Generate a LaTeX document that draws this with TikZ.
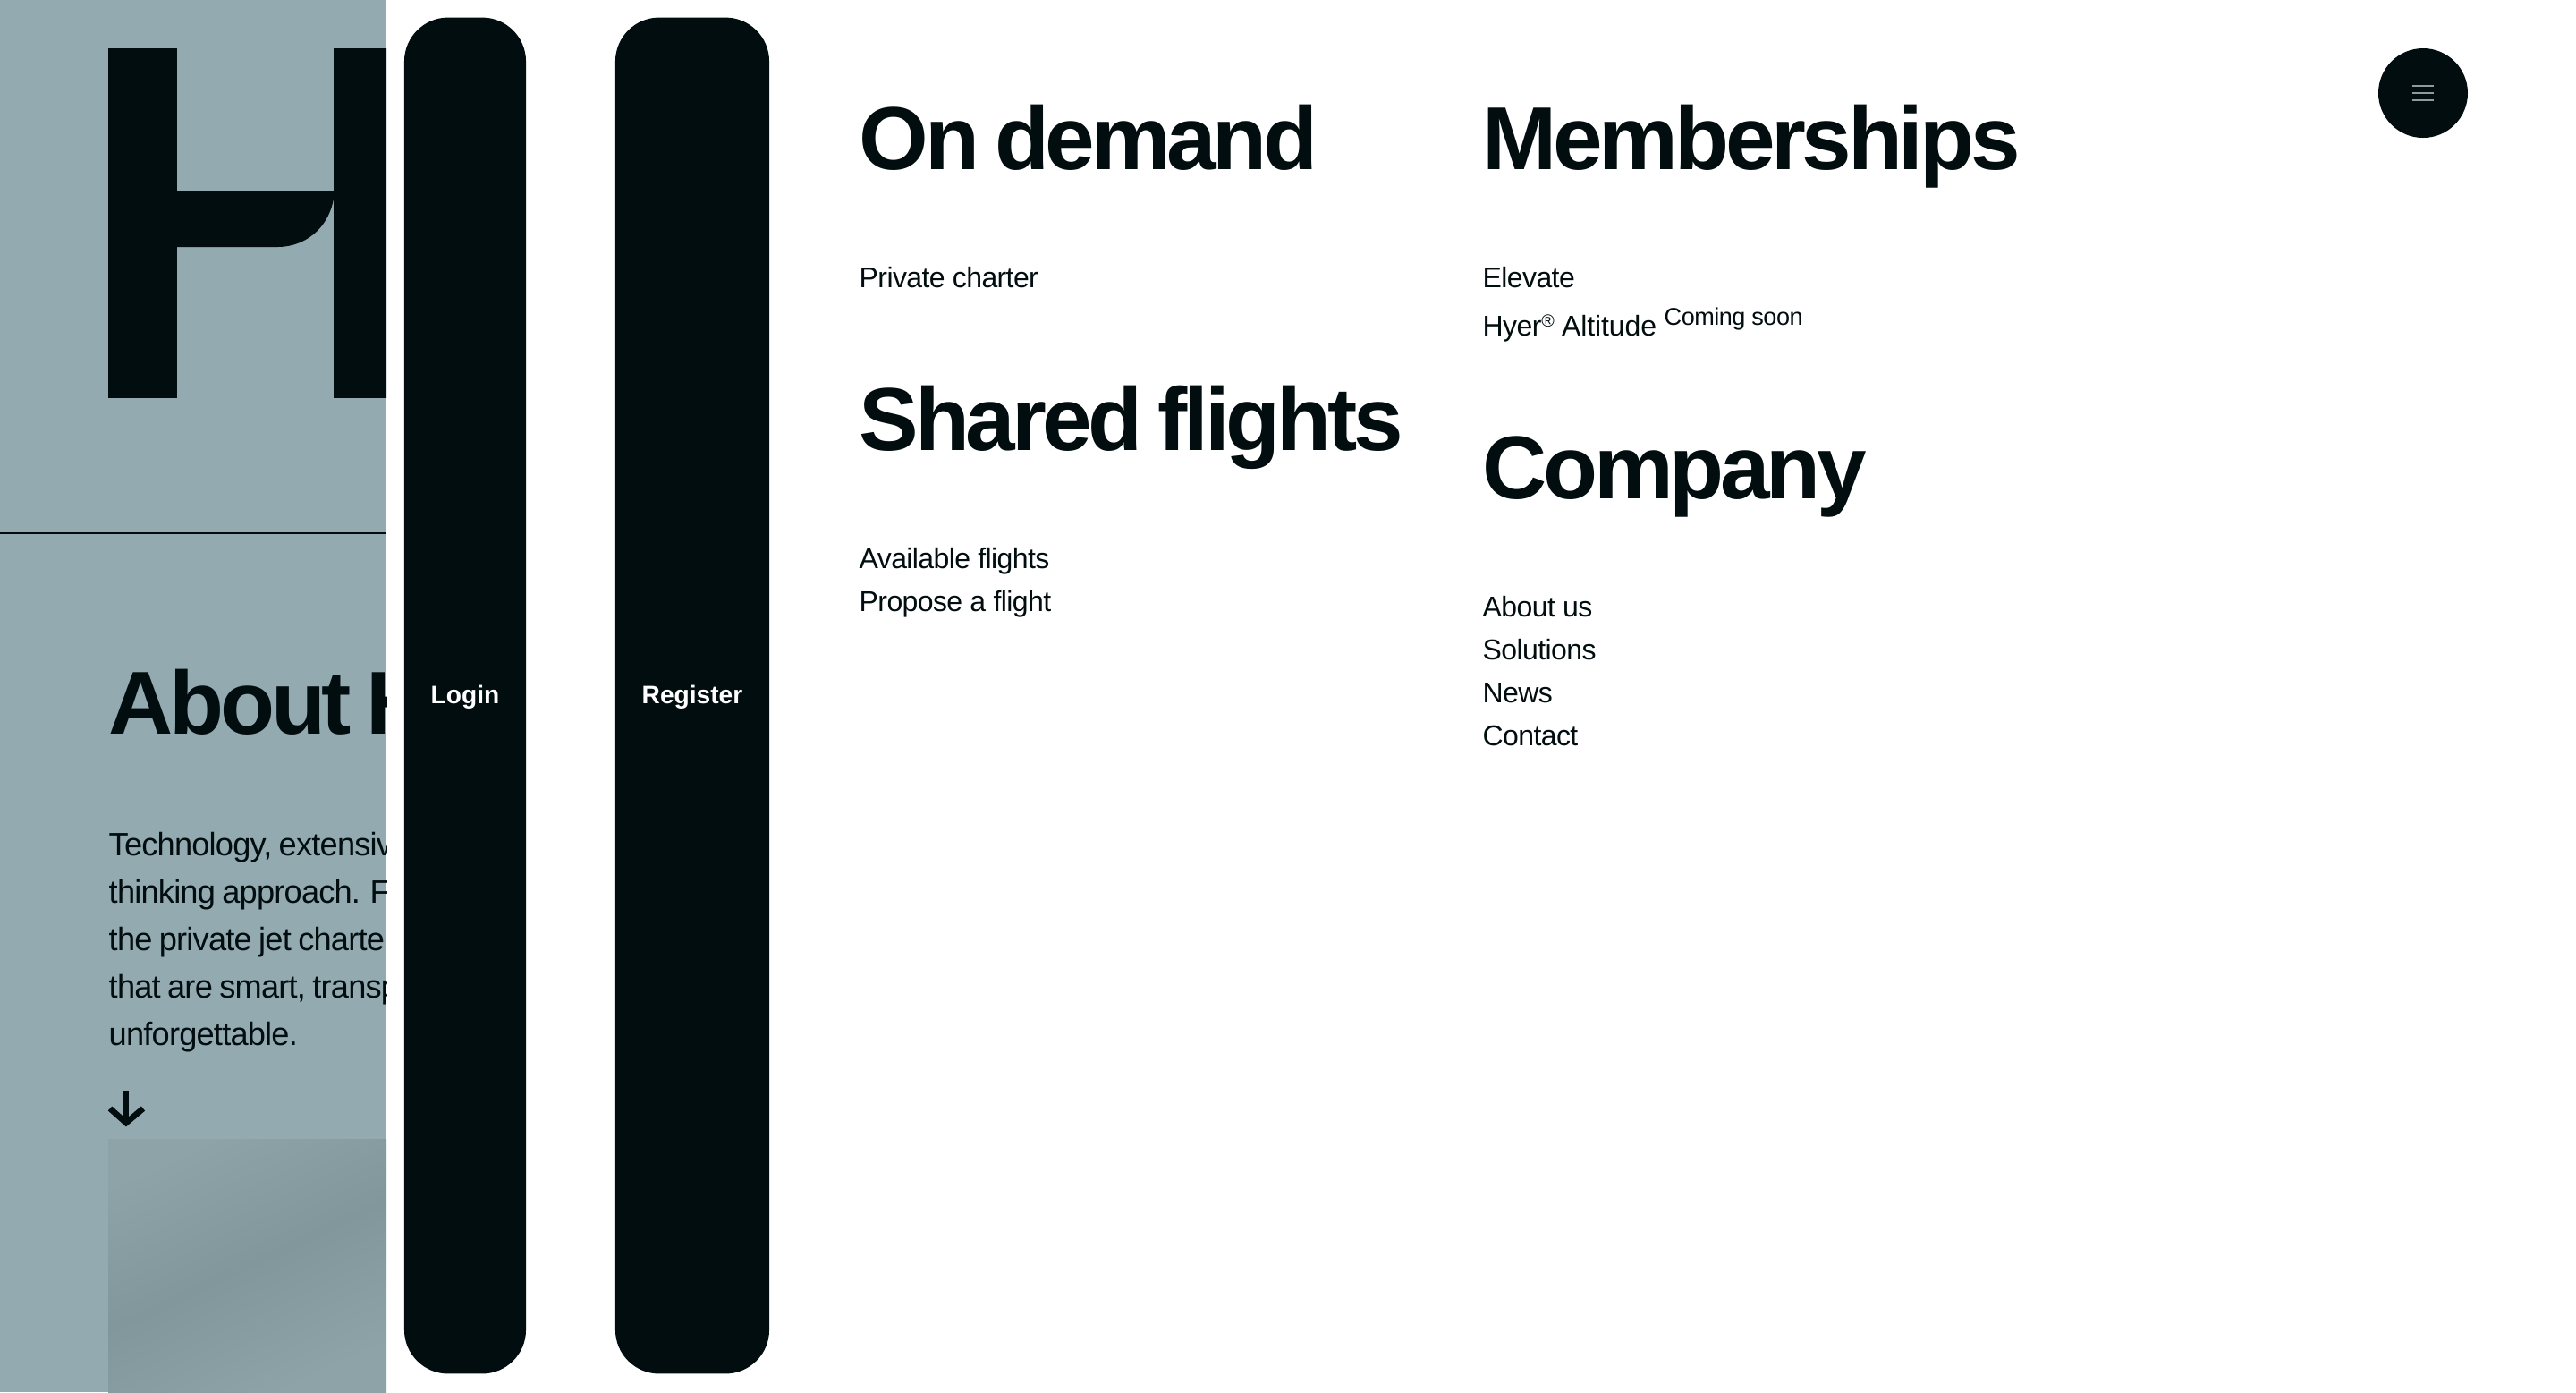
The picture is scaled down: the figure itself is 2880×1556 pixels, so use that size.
\documentclass[tikz,border=0pt]{standalone}
\usepackage{fontspec}
\setmainfont{Liberation Sans}
\newfontfamily\headfont[LetterSpace=-4.3,WordSpace=0.72]{Liberation Sans Bold}
\newfontfamily\menufont[LetterSpace=-1.9]{Liberation Sans}
\newfontfamily\bodyfont[LetterSpace=-2.2,WordSpace=0.8]{Liberation Sans}
\newfontfamily\btnfont{Liberation Sans Bold}
\definecolor{ink}{HTML}{020D0F}
\definecolor{panel}{HTML}{92AAB0}
\definecolor{photoa}{HTML}{8DA3A7}
\definecolor{photob}{HTML}{82979C}
\definecolor{bars}{HTML}{8E9A9B}
\tikzset{
  heading/.style={anchor=base west,inner sep=0pt,text=ink,font=\headfont\fontsize{28.4}{30}\selectfont},
  menuitem/.style={anchor=base west,inner sep=0pt,text=ink,font=\menufont\fontsize{9.1}{11}\selectfont},
  bodyline/.style={anchor=base west,inner sep=0pt,text=ink,font=\bodyfont\fontsize{10.3}{12}\selectfont},
  button/.style={fill=ink,text=white,rounded corners=0.49cm,minimum height=15.15cm,inner sep=0pt,
    text height=6.9pt,text depth=1.7pt,font=\btnfont\fontsize{8}{10}\selectfont},
}
\begin{document}
\begin{tikzpicture}[x=0.01cm,y=-0.01cm]
  \useasboundingbox (0,0) rectangle (2880,1556);
  \fill[white] (0,0) rectangle (2880,1556);
  \begin{scope}
    \clip (0,0) rectangle (432,1556);
    \fill[panel] (0,0) rectangle (432,1556);
    \fill[ink] (121,53.5) rectangle (198,445);
    \fill[ink] (373,53.5) rectangle (480,445);
    \fill[ink] (198,213) -- (374,213) .. controls (372,250) and (345,276) .. (310,276) -- (198,276) -- cycle;
    \draw[ink,line width=2*0.2845pt] (0,596) -- (432,596);
    \node[heading] (abouthead) at (121,820) {About H};
    \node[bodyline] (bodya) at (121,956) {Technology, extensiv};
    \node[bodyline] (bodyb) at (121,1009) {thinking approach. F};
    \node[bodyline] (bodyc) at (121,1062) {the private jet charte};
    \node[bodyline] (bodyd) at (121,1115) {that are smart, transp};
    \node[bodyline] (bodye) at (121,1168) {unforgettable.};
    \draw[ink,line width=1.9pt] (141,1219) -- (141,1254);
    \draw[ink,line width=1.9pt,miter limit=4] (123,1239) -- (141,1255) -- (160,1239);
    \shade[top color=photoa,bottom color=photoa,middle color=photob,shading angle=25] (121,1273) rectangle (432,1556);
  \end{scope}
  \node[button,minimum width=1.36cm] (login) at (520,777.5) {Login};
  \node[button,minimum width=1.72cm] (register) at (774,777.5) {Register};
  \node[heading] (ondemand) at (960,189) {On demand};
  \node[menuitem] (charter) at (960,321) {Private charter};
  \node[heading] (shared) at (960,503) {Shared flights};
  \node[menuitem] (available) at (960,635) {Available flights};
  \node[menuitem] (propose) at (960,683) {Propose a flight};
  \node[heading] (memberships) at (1657,189) {Memberships};
  \node[menuitem] (elevate) at (1657,321) {Elevate};
  \node[menuitem] (altitude) at (1657,375) {Hyer\raisebox{2.6pt}{\fontsize{5.6}{6}\selectfont®} \addfontfeature{LetterSpace=-0.4}Altitude};
  \node[menuitem,font=\menufont\fontsize{7.7}{9}\selectfont] (soon) at (1860,363) {Coming soon};
  \node[heading] (company) at (1657,557) {Company};
  \node[menuitem] (aboutus) at (1657,689) {About us};
  \node[menuitem] (solutions) at (1657,737) {Solutions};
  \node[menuitem] (news) at (1657,785) {News};
  \node[menuitem] (contact) at (1657,833) {Contact};
  \fill[ink] (2709,104) circle (50);
  \foreach \barY in {96,104,112}
    \draw[bars,line width=0.57pt] (2697,\barY) -- (2721,\barY);
\end{tikzpicture}
\end{document}
